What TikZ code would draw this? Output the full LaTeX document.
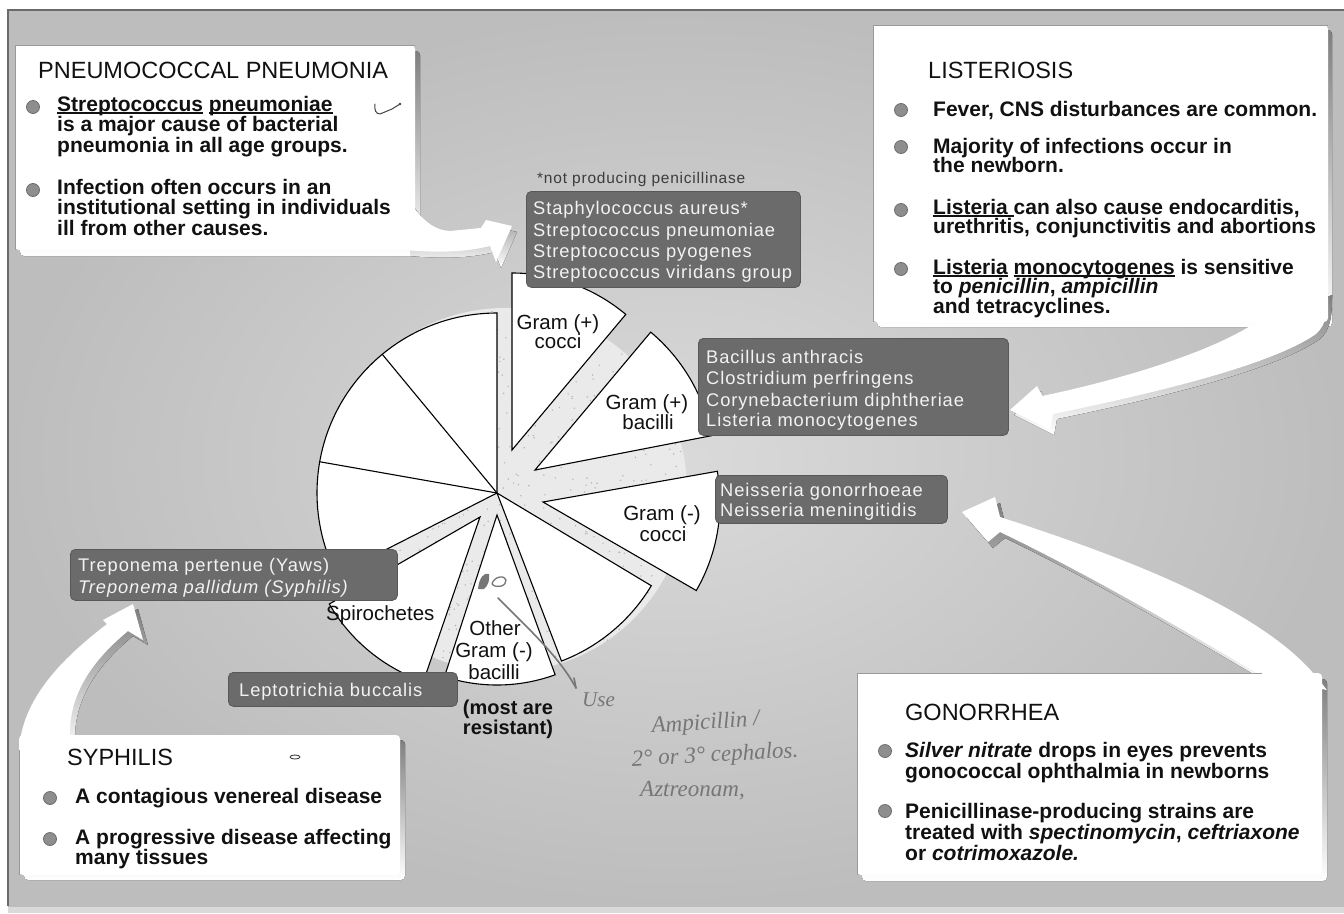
\documentclass[tikz,border=0pt]{standalone}
\usepackage{fontspec}
\setmainfont{Liberation Sans}
\newfontfamily\tagfont[LetterSpace=5]{Liberation Sans}
\newfontfamily\handfont{Liberation Serif}

\definecolor{bgin}{HTML}{DADADA}
\definecolor{bgout}{HTML}{BDBDBD}
\definecolor{frameline}{HTML}{6A6A6A}
\definecolor{shade}{HTML}{4E4E4E}
\definecolor{boxedge}{HTML}{9A9A9A}
\definecolor{ink}{HTML}{111111}
\definecolor{tagfill}{HTML}{6B6B6B}
\definecolor{tagedge}{HTML}{585858}
\definecolor{tagtext}{HTML}{F2F2F2}
\definecolor{notegray}{HTML}{3C3C3C}
\definecolor{bulletfill}{HTML}{8E8E8E}
\definecolor{bulletedge}{HTML}{6C6C6C}
\definecolor{handgray}{HTML}{767676}
\definecolor{penink}{HTML}{444444}
\definecolor{gapfill}{HTML}{EAEAEA}
\definecolor{speck}{HTML}{B4B4B4}

% underline that sits just under the baseline, as on the slide
\newcommand\ulin[1]{\setbox0\hbox{#1}\rlap{\rule[-2.6pt]{\wd0}{1.3pt}}\box0\relax}

% callout shapes: white card plus its swooping arrow; the argument is the fill
\tikzset{
  pics/pneucallout/.style={code={
    \fill[#1, rounded corners=4pt] (15,45) rectangle (415,250);
    \fill[#1] (405,196) .. controls (420,216) and (430,230) .. (450,231)
      -- (481,228) -- (486,220) -- (512,226) -- (496,262) -- (490,246)
      .. controls (465,252) and (440,253) .. (405,250) -- cycle;
  }},
  pics/listcallout/.style={code={
    \fill[#1, rounded corners=4pt] (873,25) rectangle (1328,322);
    \fill[#1] (1262,318) .. controls (1220,350) and (1120,380) .. (1042,396)
      -- (1037,386) -- (1010,410) -- (1050,430) -- (1053,414)
      .. controls (1150,394) and (1270,366) .. (1316,334)
      .. controls (1327,324) and (1328,310) .. (1328,290) -- cycle;
  }},
  pics/gonocallout/.style={code={
    \fill[#1, rounded corners=4pt] (857,673) rectangle (1322,875);
    \fill[#1] (1262,676) .. controls (1200,640) and (1100,580) .. (1000,532)
      -- (988,542) -- (962,512) -- (995,497) -- (1000,517)
      .. controls (1120,556) and (1268,610) .. (1322,684) -- cycle;
  }},
  pics/syphcallout/.style={code={
    \fill[#1, rounded corners=4pt] (19,735) rectangle (400,875);
    \fill[#1] (19,750) .. controls (22,700) and (60,660) .. (107,624)
      -- (103,620) -- (133,604) -- (143,640) -- (128,631)
      .. controls (98,656) and (68,690) .. (70,738) -- cycle;
  }}
}

\newcommand\pieslice[5]{% vertex x, vertex y, start angle, end angle, radius (angles counter-clockwise)
  \filldraw[pieseg] (#1,#2) -- ++(-#3:#5) arc[start angle=-#3, end angle=-#4, radius=#5] -- cycle;}

\begin{document}
\begin{tikzpicture}[x=1pt, y=-1pt,
  pieseg/.style={fill=white, draw=black, line width=1.1pt, line join=miter},
  pieline/.style={draw=black, line width=1.1pt},
  titletxt/.style={font=\fontsize{23.5}{23.5}\selectfont, text=ink, inner sep=0pt, anchor=base west},
  bodytxt/.style={font=\fontsize{21}{21}\selectfont\bfseries, text=ink, inner sep=0pt, anchor=base west},
  pielab/.style={font=\fontsize{20.5}{20.5}\selectfont, text=ink, inner sep=0pt, anchor=base},
  resist/.style={font=\fontsize{20}{20}\selectfont\bfseries, text=ink, inner sep=0pt, anchor=base},
  tagbox/.style={fill=tagfill, draw=tagedge, line width=0.8pt, rounded corners=5pt, inner sep=0pt, anchor=north west},
  tagtxt/.style={font=\tagfont\fontsize{18.3}{18.3}\selectfont, text=tagtext, inner sep=0pt, anchor=base west},
  notetxt/.style={font=\tagfont\fontsize{15.5}{15.5}\selectfont, text=notegray, inner sep=0pt, anchor=base west},
  bulletdot/.style={fill=bulletfill, draw=bulletedge, line width=0.8pt},
  handtxt/.style={font=\handfont\itshape\fontsize{23}{23}\selectfont, text=handgray, inner sep=0pt, anchor=base west},
  handline/.style={draw=handgray, line width=1.6pt, line cap=round, line join=round},
  pen/.style={draw=penink, line width=1pt, line cap=round, line join=round}
]
\useasboundingbox (0,0) rectangle (1344,913);

% ---- board background ----
\fill[white] (0,0) rectangle (1344,913);
\fill[bgin] (8,905) rectangle (1344,913);
\shade[inner color=bgin, outer color=bgout] (8,10) rectangle (1344,906);
\draw[frameline, line width=1.5pt] (8,906) -- (8,10) -- (1344,10);

% ---- speckled backdrop of the exploded pie ----
\fill[gapfill] (505,490) circle[radius=182];
\pgfmathsetseed{7}
\foreach \k in {1,...,900}{
  \pgfmathsetmacro\ang{rnd*360}
  \pgfmathsetmacro\rad{182*sqrt(rnd)}
  \fill[speck] (505,490) ++(\ang:\rad) circle[radius=0.8];
}

% ---- pie segments ----
\coordinate (pc) at (497,493);
\pieslice{497}{493}{90}{207}{180}
\draw[pieline] (pc) -- ++(-129.6:180);
\draw[pieline] (pc) -- ++(-170:180);
\pieslice{497}{493}{291}{329}{180}
\pieslice{480}{517}{210}{251}{174}
\pieslice{497}{515}{252}{290}{170}
\pieslice{543}{502}{330}{370}{177}
\pieslice{535}{470}{11}{50}{180}
\pieslice{512}{450}{50}{90}{177}

% ---- callout shadows, then the white cards ----
\pic[shift={(5,6)}] {pneucallout=shade};
\pic[shift={(4,5)}] {listcallout=shade};
\pic[shift={(5,6)}] {gonocallout=shade};
\pic[shift={(5,5)}] {syphcallout=shade};
\pic {pneucallout=white};
\pic {listcallout=white};
\pic {gonocallout=white};
\pic {syphcallout=white};
\draw[boxedge, line width=0.6pt] (15,250) -- (15,45) -- (415,45);
\draw[boxedge, line width=0.6pt] (873,322) -- (873,25) -- (1328,25);
\draw[boxedge, line width=0.6pt] (857,875) -- (857,673) -- (1262,673);
\draw[boxedge, line width=0.6pt] (19,875) -- (19,750);

% ---- pie segment labels ----
\node[pielab] (gpc1) at (558,329) {Gram (+)};
\node[pielab] (gpc2) at (558,348) {cocci};
\node[pielab] (gpb1) at (647,409) {Gram (+)};
\node[pielab] (gpb2) at (648,429) {bacilli};
\node[pielab] (gnc1) at (662,520) {Gram (-)};
\node[pielab] (gnc2) at (663,541) {cocci};
\node[pielab, anchor=base west] (spiro) at (326,620) {Spirochetes};
\node[pielab] (oth1) at (495,635) {Other};
\node[pielab] (oth2) at (494,657) {Gram (-)};
\node[pielab] (oth3) at (494,679) {bacilli};
\node[resist] (res1) at (508,714) {(most are};
\node[resist] (res2) at (508,734) {resistant)};

% ---- organism tags ----
\node[notetxt] (note) at (537,183) {*not producing penicillinase};
\node[tagbox, minimum width=274pt, minimum height=96pt] (staph) at (526,191) {};
\node[tagtxt] (staph1) at (533,214.5) {Staphylococcus aureus*};
\node[tagtxt] (staph2) at (533,236.5) {Streptococcus pneumoniae};
\node[tagtxt] (staph3) at (533,257.5) {Streptococcus pyogenes};
\node[tagtxt] (staph4) at (533,278.5) {Streptococcus viridans group};

\node[tagbox, minimum width=310pt, minimum height=97pt] (bacil) at (698,338) {};
\node[tagtxt] (bacil1) at (706,363.5) {Bacillus anthracis};
\node[tagtxt] (bacil2) at (706,384.5) {Clostridium perfringens};
\node[tagtxt] (bacil3) at (706,406.5) {Corynebacterium diphtheriae};
\node[tagtxt] (bacil4) at (706,426.5) {Listeria monocytogenes};

\node[tagbox, minimum width=232pt, minimum height=48pt] (neis) at (715,475) {};
\node[tagtxt] (neis1) at (720,496.5) {Neisseria gonorrhoeae};
\node[tagtxt] (neis2) at (720,516.5) {Neisseria meningitidis};

\node[tagbox, minimum width=327pt, minimum height=51pt] (trep) at (70,549) {};
\node[tagtxt] (trep1) at (78,571.5) {Treponema pertenue (Yaws)};
\node[tagtxt] (trep2) at (78,593) {\itshape Treponema pallidum (Syphilis)};

\node[tagbox, minimum width=229pt, minimum height=34pt] (lepto) at (228,672) {};
\node[tagtxt] (lepto1) at (239,696) {Leptotrichia buccalis};

% ---- PNEUMOCOCCAL PNEUMONIA ----
\node[titletxt] (pnT) at (38,78) {PNEUMOCOCCAL PNEUMONIA};
\fill[bulletdot] (33,107) circle[radius=6.5];
\fill[bulletdot] (33,190) circle[radius=6.5];
\node[bodytxt] (pn1) at (57,111) {\ulin{Streptococcus} \ulin{pneumoniae}};
\node[bodytxt] (pn2) at (57,131.5) {is a major cause of bacterial};
\node[bodytxt] (pn3) at (57,152) {pneumonia in all age groups.};
\node[bodytxt] (pn4) at (57,194) {Infection often occurs in an};
\node[bodytxt] (pn5) at (57,214.5) {institutional setting in individuals};
\node[bodytxt] (pn6) at (57,235) {ill from other causes.};
\draw[pen] (375,104) .. controls (374,110) and (376,114) .. (380,114) -- (392,109) -- (400,104);
\fill[penink] (400,104) circle[radius=1.3];

% ---- LISTERIOSIS ----
\node[titletxt] (liT) at (928,78) {LISTERIOSIS};
\fill[bulletdot] (901,110) circle[radius=6.5];
\fill[bulletdot] (901,147) circle[radius=6.5];
\fill[bulletdot] (901,210) circle[radius=6.5];
\fill[bulletdot] (901,269) circle[radius=6.5];
\node[bodytxt] (li1) at (933,116) {Fever, CNS disturbances are common.};
\node[bodytxt] (li2) at (933,153) {Majority of infections occur in};
\node[bodytxt] (li3) at (933,172.5) {the newborn.};
\node[bodytxt] (li4) at (933,214) {\ulin{Listeria\ }can also cause endocarditis,};
\node[bodytxt] (li5) at (933,233.5) {urethritis, conjunctivitis and abortions};
\node[bodytxt] (li6) at (933,274) {\ulin{Listeria} \ulin{monocytogenes} is sensitive};
\node[bodytxt] (li7) at (933,293.5) {to \textit{penicillin}, \textit{ampicillin}};
\node[bodytxt] (li8) at (933,313) {and tetracyclines.};

% ---- GONORRHEA ----
\node[titletxt] (goT) at (905,720) {GONORRHEA};
\fill[bulletdot] (885,751) circle[radius=6.5];
\fill[bulletdot] (885,811) circle[radius=6.5];
\node[bodytxt] (go1) at (905,757) {\textit{Silver nitrate} drops in eyes prevents};
\node[bodytxt] (go2) at (905,778) {gonococcal ophthalmia in newborns};
\node[bodytxt] (go3) at (905,818) {Penicillinase-producing strains are};
\node[bodytxt] (go4) at (905,839) {treated with \textit{spectinomycin}, \textit{ceftriaxone}};
\node[bodytxt] (go5) at (905,860) {or \textit{cotrimoxazole.}};

% ---- SYPHILIS ----
\node[titletxt] (syT) at (67,765) {SYPHILIS};
\fill[bulletdot] (50,798) circle[radius=6.5];
\fill[bulletdot] (50,839) circle[radius=6.5];
\node[bodytxt] (sy1) at (75,803) {A contagious venereal disease};
\node[bodytxt] (sy2) at (75,844) {A progressive disease affecting};
\node[bodytxt] (sy3) at (75,864.5) {many tissues};
\draw[pen, line width=0.9pt] (295,757) ellipse[x radius=5, y radius=2];

% ---- pencil notes ----
\fill[handgray] (478,589) .. controls (479,578) and (484,572) .. (489,574)
  .. controls (490,580) and (488,586) .. (484,589) -- cycle;
\draw[handline, line width=1.3pt] (492,584) .. controls (494,576) and (505,575) .. (506,580)
  .. controls (507,586) and (496,589) .. (492,584);
\coordinate (noteStart) at (498,598);
\coordinate (noteEnd) at (576,688);
\draw[handline] (noteStart) .. controls (530,630) and (560,658) .. (noteEnd);
\draw[handline] (noteEnd) -- ++(-2,-10);
\node[handtxt, font=\handfont\itshape\fontsize{21}{21}\selectfont] (hUse) at (582,706) {Use};
\node[handtxt, rotate=4] (hAmp) at (652,733) {Ampicillin /};
\node[handtxt, rotate=3] (hCeph) at (632,766) {2° or 3° cephalos.};
\node[handtxt] (hAzt) at (640,796) {Aztreonam,};
\end{tikzpicture}
\end{document}
